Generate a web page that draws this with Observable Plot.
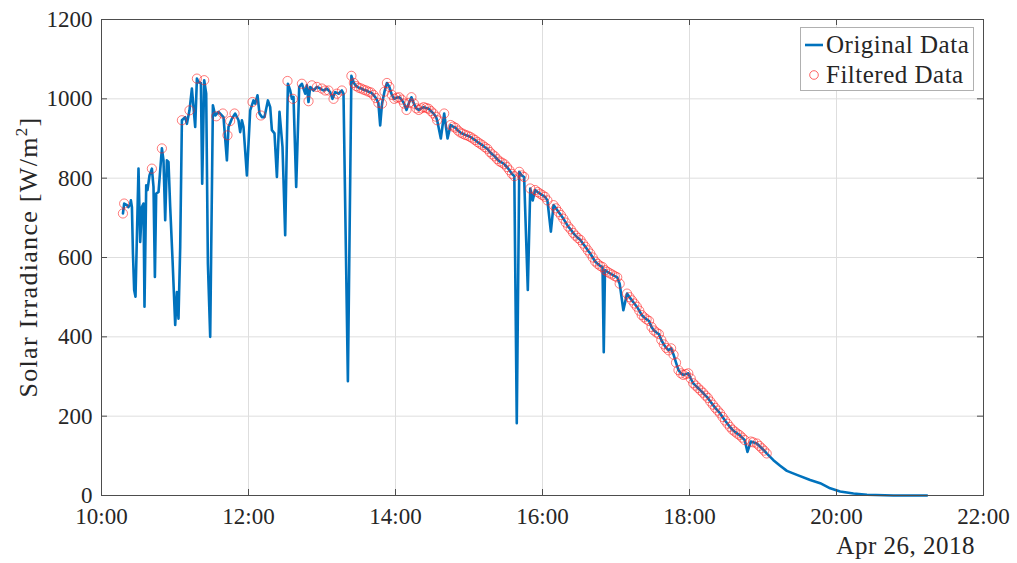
<!DOCTYPE html>
<html>
<head>
<meta charset="utf-8">
<script src="https://cdn.jsdelivr.net/npm/d3@7"></script>
<script src="https://cdn.jsdelivr.net/npm/@observablehq/plot@0.6"></script>
<style>
  html, body { margin: 0; padding: 0; background: #fff; }
  #wrap { position: relative; width: 1017px; height: 563px; font-family: 'Liberation Serif', serif; color: #262626; }
  #ylabel { position: absolute; left: 29px; top: 257px; transform: translate(-50%, -50%) rotate(-90deg); white-space: nowrap; font-size: 26px; letter-spacing: 1.3px; }
  #ylabel sup { font-size: 17px; vertical-align: 10px; line-height: 0; }
  #date { position: absolute; right: 42px; top: 532px; font-size: 25px; letter-spacing: 0.5px; white-space: nowrap; }
  #legend { position: absolute; left: 800px; top: 27px; width: 174px; height: 64px; border: 1px solid #b0b0b0; background: #fff; box-sizing: border-box; font-size: 25px; letter-spacing: 0.5px; }
  .row { position: absolute; left: 0; height: 30px; display: flex; align-items: center; }
  .sw { width: 24px; display: flex; justify-content: center; align-items: center; }
</style>
</head>
<body>
<div id="wrap">
  <div id="chart"></div>
  <div id="ylabel">Solar Irradiance [W/m<sup>2</sup>]</div>
  <div id="date">Apr 26, 2018</div>
  <div id="legend"></div>
</div>
<script>
// ---- Data ----
const origTime = [
"10:17:30","10:18:30","10:20:45","10:22:00","10:23:25","10:24:00","10:24:50","10:25:40","10:26:40","10:27:45",
"10:30:12","10:31:35","10:33:00","10:34:17","10:35:06","10:36:30","10:37:33","10:39:11","10:41:08","10:42:27",
"10:43:35","10:44:39","10:46:32","10:47:55","10:49:18","10:50:37","10:52:00","10:53:23","10:54:41","10:56:05",
"10:58:00","11:00:10","11:01:33","11:02:51","11:04:15","11:05:38","11:08:19","11:09:43","11:11:50","11:13:47",
"11:15:06","11:16:29","11:17:53","11:19:11","11:21:08","11:22:12","11:23:50","11:25:28","11:26:51","11:28:44",
"11:30:56","11:32:49","11:35:31","11:39:35","11:42:22","11:43:40","11:46:27","11:49:08","11:51:50","11:53:13",
"11:54:37","11:55:55","11:58:41","12:01:23","12:04:05","12:05:28","12:07:20","12:08:59","12:10:56","12:13:04",
"12:15:50","12:17:43","12:19:06","12:21:13","12:23:11","12:25:18","12:27:45","12:29:57","12:32:10","12:34:02",
"12:35:26","12:36:44","12:38:56","12:41:23","12:43:35","12:46:17","12:47:40","12:48:58","12:50:22","12:53:04",
"12:55:50","12:58:32","13:01:13","13:04:00","13:06:41","13:08:34","13:10:46","13:13:28","13:16:14","13:17:33",
"13:21:08","13:24","13:26","13:28","13:30","13:32","13:34","13:36","13:38","13:40",
"13:42","13:44","13:46","13:47:30","13:49","13:51","13:53","13:55","13:57","13:59",
"14:01","14:03","14:05","14:07","14:09","14:11","14:13","14:15","14:17","14:19",
"14:21","14:23","14:25","14:27","14:29","14:31","14:33","14:34","14:37","14:39:45",
"14:42:30","14:45","14:47","14:49","14:51","14:53","14:55","14:57","14:59","15:01",
"15:03","15:05","15:07","15:09","15:11","15:13","15:15","15:17","15:19","15:21",
"15:23","15:25","15:27","15:29","15:31","15:33","15:35","15:37","15:39","15:41",
"15:43","15:45","15:48","15:50","15:52","15:54","15:56","15:58","16:00","16:02",
"16:04","16:06:50","16:09","16:11","16:13","16:15","16:17","16:19","16:21","16:23",
"16:25","16:27","16:29","16:31","16:33","16:35","16:37","16:39","16:41","16:43",
"16:45","16:47","16:49","16:50","16:51","16:53","16:55","16:57","16:59","17:01",
"17:03","17:06","17:09","17:11","17:13","17:15","17:17","17:19","17:21","17:23",
"17:25","17:27","17:29","17:31","17:33","17:35","17:37","17:39","17:41","17:43",
"17:45","17:47","17:49","17:51","17:53","17:55","17:57","17:59","18:01","18:03",
"18:05","18:07","18:09","18:11","18:13","18:15","18:17","18:19","18:21","18:23",
"18:25","18:27","18:29","18:31","18:33","18:35","18:37","18:39","18:41","18:43",
"18:45","18:47:20","18:50","18:52","18:55","18:57","18:59","19:01","19:03","19:08:30",
"19:14","19:19:30","19:27:40","19:38:30","19:46:40","19:54:50","20:03","20:13:50","20:24:50","20:46:30",
"21:13:50"
];
const origValue = [
711,736,732,727,734,744,727,610,518,501,
824,639,727,736,476,782,770,807,824,778,
551,761,765,820,875,845,694,845,841,727,
593,430,513,446,627,946,954,937,971,1026,
979,929,1051,1042,1040,786,1047,1013,585,400,
984,958,967,954,845,929,950,963,946,916,
946,929,807,971,996,988,1009,963,954,954,
996,979,921,913,803,967,879,656,1038,1021,
1000,1005,778,1030,1038,1013,1034,992,1030,1021,
1030,1026,1021,1026,1017,1000,1017,1013,1021,1013,
288,1058,1040,1032,1028,1026,1023,1021,1018,1016,
1010,1002,990,933,988,1018,1040,1030,1010,1000,
1003,1004,998,988,972,990,1004,988,976,972,
976,979,977,975,969,963,955,946,900,963,
900,934,930,927,920,915,912,909,907,904,
900,896,891,887,883,878,874,866,860,855,
848,842,839,835,828,820,811,805,182,816,
807,803,518,774,744,770,765,761,757,753,
744,665,732,724,715,707,698,688,678,671,
662,655,649,644,635,627,618,610,600,590,
584,579,576,361,568,564,560,557,553,550,
534,467,509,500,492,484,476,466,455,449,
444,440,425,416,411,407,392,381,372,366,
371,355,335,316,308,304,306,308,295,283,
277,271,265,259,252,246,237,229,221,214,
207,198,189,181,173,166,161,156,152,146,
140,110,136,134,131,125,119,113,106,89,
75,62,52,39,31,18,10,5,2,0,
0
];
const filtTime = [
"10:17:30","10:18:30","10:41:08","10:49:18","11:05:38","11:11:50","11:17:53","11:23:50","11:33:40","11:39:05",
"11:42:50","11:45:00","11:48:35","12:03:15","12:10:05","12:31:50","12:36:15","12:43:35","12:49:00","12:51:45",
"12:55:50","12:59:55","13:02:35","13:05:20","13:09:25","13:12:10","13:16:14",
"13:24","13:26","13:28","13:30","13:32","13:34","13:36","13:38","13:40","13:42",
"13:44","13:46","13:49","13:51","13:53","13:55","13:57","13:59","14:01","14:03",
"14:05","14:07","14:09","14:11","14:13","14:15","14:17","14:19","14:21","14:23",
"14:25","14:27","14:29","14:31","14:33","14:34","14:39:45","14:45","14:47","14:49",
"14:51","14:53","14:55","14:57","14:59","15:01","15:03","15:05","15:07","15:09",
"15:11","15:13","15:15","15:17","15:19","15:21","15:23","15:25","15:27","15:29",
"15:31","15:33","15:35","15:37","15:41","15:43","15:45","15:50","15:54","15:56",
"15:58","16:00","16:02","16:04","16:09","16:11","16:13","16:15","16:17","16:19",
"16:21","16:23","16:25","16:27","16:29","16:31","16:33","16:35","16:37","16:39",
"16:41","16:43","16:45","16:47","16:49","16:51","16:53","16:55","16:57","16:59",
"17:01","17:03","17:09","17:11","17:13","17:15","17:17","17:19","17:21","17:23",
"17:25","17:27","17:29","17:31","17:33","17:35","17:37","17:39","17:41","17:43",
"17:45","17:47","17:49","17:51","17:53","17:55","17:57","17:59","18:01","18:03",
"18:05","18:07","18:09","18:11","18:13","18:15","18:17","18:19","18:21","18:23",
"18:25","18:27","18:29","18:31","18:33","18:35","18:37","18:39","18:41","18:43",
"18:45","18:50","18:52","18:55","18:57","18:59","19:01","19:03"
];
const filtValue = [
711,736,824,875,946,971,1051,1047,956,963,
908,944,963,992,958,1045,1000,1038,994,1034,
1030,1026,1021,1021,1000,1013,1021,
1058,1040,1032,1028,1026,1023,1021,1018,1016,1010,
1002,990,988,1018,1040,1030,1010,1000,1003,1004,
998,988,972,990,1004,988,976,972,976,979,
977,975,969,963,955,946,963,934,930,927,
920,915,912,909,907,904,900,896,891,887,
883,878,874,866,860,855,848,842,839,835,
828,820,811,805,816,807,803,774,770,765,
761,757,753,744,732,724,715,707,698,688,
678,671,662,655,649,644,635,627,618,610,
600,590,584,579,576,568,564,560,557,553,
550,534,509,500,492,484,476,466,455,449,
444,440,425,416,411,407,392,381,372,366,
371,355,335,316,308,304,306,308,295,283,
277,271,265,259,252,246,237,229,221,214,
207,198,189,181,173,166,161,156,152,146,
140,136,134,131,125,119,113,106
];
const xTickLabels = ["10:00","12:00","14:00","16:00","18:00","20:00","22:00"];
const yTicks = [0,200,400,600,800,1000,1200];
const seriesNames = ["Original Data","Filtered Data"];

// ---- Build ----
const parse = s => { const [h, m, sec = 0] = s.split(":").map(Number); return new Date(Date.UTC(2018, 3, 26, h, m, sec)); };
const orig = origTime.map((t, i) => ({t: parse(t), v: origValue[i]}));
const filt = filtTime.map((t, i) => ({t: parse(t), v: filtValue[i]}));
const xTicks = xTickLabels.map(parse);

const W = 1017, H = 563, mL = 101, mR = 34, mT = 19, mB = 68;
const innerH = H - mT - mB, innerW = W - mL - mR;
const tickLen = 6;
const axisCol = "#4d4d4d";
const blue = "#0072BD";
const red = "#f22";
const FONT = "'Liberation Serif', serif";

const chart = Plot.plot({
  width: W, height: H,
  marginLeft: mL, marginRight: mR, marginTop: mT, marginBottom: mB,
  style: {fontFamily: FONT, fontSize: "24px", color: "#262626", background: "white"},
  x: {type: "utc", domain: [xTicks[0], xTicks[xTicks.length - 1]]},
  y: {domain: [0, 1200]},
  marks: [
    Plot.gridX(xTicks, {stroke: "#dedede", strokeOpacity: 1, strokeWidth: 1}),
    Plot.gridY(yTicks, {stroke: "#dedede", strokeOpacity: 1, strokeWidth: 1}),
    Plot.line(orig, {x: "t", y: "v", stroke: blue, strokeWidth: 2.6, strokeLinejoin: "round"}),
    Plot.dot(filt, {x: "t", y: "v", r: 4.6, stroke: red, strokeWidth: 0.7, strokeOpacity: 0.85, fill: "none"}),
    Plot.frame({stroke: axisCol, strokeWidth: 1}),
    Plot.tickX(xTicks, {x: d => d, stroke: axisCol, insetTop: innerH - tickLen}),
    Plot.tickX(xTicks, {x: d => d, stroke: axisCol, insetBottom: innerH - tickLen}),
    Plot.tickY(yTicks, {y: d => d, stroke: axisCol, insetRight: innerW - tickLen}),
    Plot.tickY(yTicks, {y: d => d, stroke: axisCol, insetLeft: innerW - tickLen}),
    Plot.axisX(xTicks, {tickSize: 0, tickPadding: 12, tickFormat: d3.utcFormat("%H:%M"), label: null, fill: "#262626", fontFamily: FONT, fontSize: 23}),
    Plot.axisY(yTicks, {tickSize: 0, tickPadding: 9, tickFormat: d => String(d), label: null, fill: "#262626", fontFamily: FONT, fontSize: 23})
  ]
});
document.getElementById("chart").appendChild(chart);

// legend
const leg = document.getElementById("legend");
leg.innerHTML = `
  <div class="row" style="top:2px;"><div class="sw" style="margin-left:1px;"><svg width="20" height="6"><line x1="1" x2="19" y1="3" y2="3" stroke="${blue}" stroke-width="2.6"/></svg></div><span>${seriesNames[0]}</span></div>
  <div class="row" style="top:32px;"><div class="sw" style="margin-left:1px;"><svg width="12" height="12"><circle cx="6" cy="6" r="4.3" fill="none" stroke="${red}" stroke-width="0.7"/></svg></div><span>${seriesNames[1]}</span></div>`;
</script>
</body>
</html>
